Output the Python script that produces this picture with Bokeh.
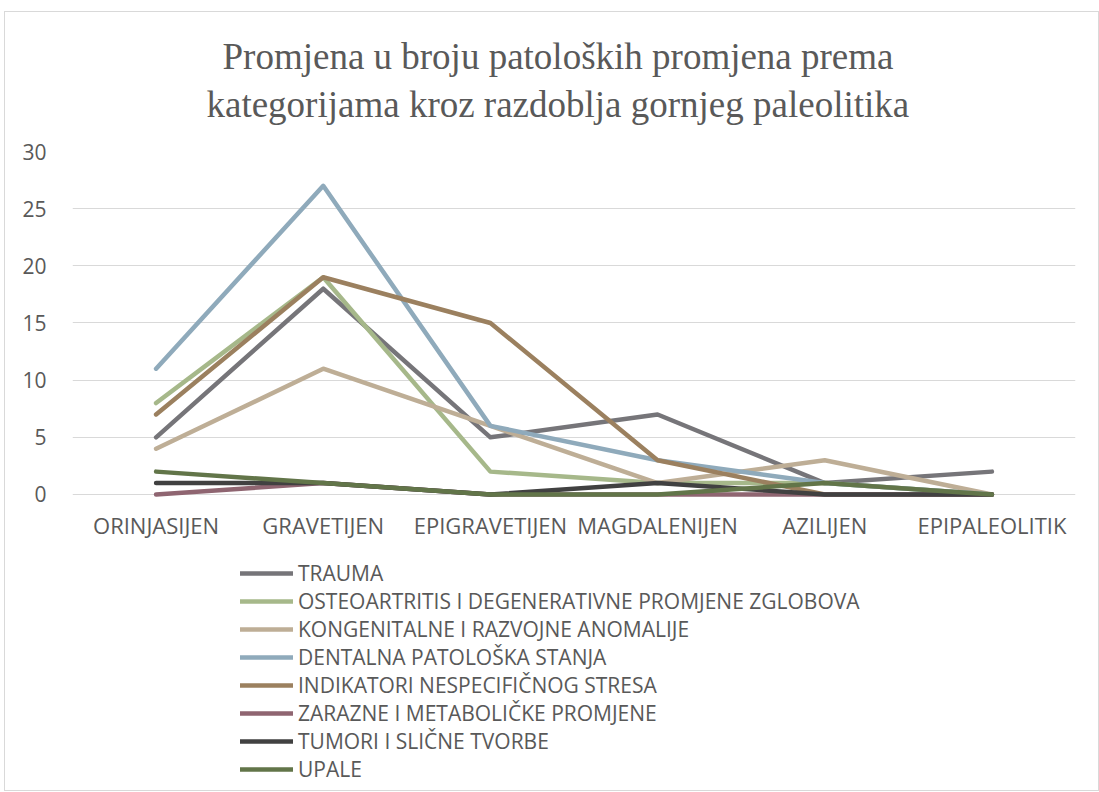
from bokeh.plotting import figure
from bokeh.models import Legend, LegendItem, Title, FactorRange, Range1d, FixedTicker
from bokeh.core.properties import value
from bokeh.embed import file_html
from bokeh.resources import INLINE

categories = ["ORINJASIJEN", "GRAVETIJEN", "EPIGRAVETIJEN", "MAGDALENIJEN", "AZILIJEN", "EPIPALEOLITIK"]

series_names = [
    "TRAUMA",
    "OSTEOARTRITIS I DEGENERATIVNE PROMJENE ZGLOBOVA",
    "KONGENITALNE I RAZVOJNE ANOMALIJE",
    "DENTALNA PATOLOŠKA STANJA",
    "INDIKATORI NESPECIFIČNOG STRESA",
    "ZARAZNE I METABOLIČKE PROMJENE",
    "TUMORI I SLIČNE TVORBE",
    "UPALE",
]

trauma = [5, 18, 5, 7, 1, 2]
osteoartritis = [8, 19, 2, 1, 1, 0]
kongenitalne = [4, 11, 6, 1, 3, 0]
dentalna = [11, 27, 6, 3, 1, 0]
indikatori = [7, 19, 15, 3, 0, 0]
zarazne = [0, 1, 0, 0, 0, 0]
tumori = [1, 1, 0, 1, 0, 0]
upale = [2, 1, 0, 0, 1, 0]

series_values = [trauma, osteoartritis, kongenitalne, dentalna, indikatori, zarazne, tumori, upale]
colors = ["#767579", "#a6b88a", "#beae96", "#8faabb", "#9b805f", "#8f6571", "#414141", "#627549"]

y_ticks = [0, 5, 10, 15, 20, 25, 30]

title_lines = ["Promjena u broju patoloških promjena prema",
               "kategorijama kroz razdoblja gornjeg paleolitika"]

FONT = "Open Sans"
TXT = "#595959"

# frame extends below the value area so that category labels and legend sit inside it
p = figure(
    x_range=FactorRange(*categories, range_padding=0),
    y_range=Range1d(-25.89, 30),
    frame_width=1003, frame_height=639,
    x_axis_location=None,
    output_backend="svg", toolbar_location=None,
    min_border_left=67, min_border_right=23,
    min_border_top=139, min_border_bottom=0,
)
p.outline_line_color = None
p.styles = {"border": "1px solid #d9d9d9", "margin-left": "4px", "margin-top": "11px"}

# line 2 first, then line 1
p.add_layout(Title(text=title_lines[1], align="left", text_font="Liberation Serif",
                   text_font_size="37px", text_font_style="normal", text_color=TXT,
                   standoff=54, offset=134, text_line_height=1.0), "above")
p.add_layout(Title(text=title_lines[0], align="left", text_font="Liberation Serif",
                   text_font_size="37px", text_font_style="normal", text_color=TXT,
                   standoff=-45, offset=150, text_line_height=1.0), "above")

p.xgrid.grid_line_color = None
p.ygrid.grid_line_color = "#d9d9d9"
p.ygrid.grid_line_width = 1
p.yaxis.ticker = FixedTicker(ticks=y_ticks)
ax = p.yaxis[0]
ax.axis_line_color = None
ax.major_tick_line_color = None
ax.minor_tick_line_color = None
ax.major_label_text_font = FONT
ax.major_label_text_font_size = "21px"
ax.major_label_text_color = TXT
ax.major_label_standoff = 20

# category labels under the zero line
p.text(x=categories, y=[0] * len(categories), text=categories, y_offset=31,
       text_align="center", text_baseline="middle", text_font=value(FONT),
       text_font_size="22px", text_color=TXT)

items = []
for name, vals, c in zip(series_names, series_values, colors):
    r = p.line(categories, vals, line_color=c, line_width=4.5, line_cap="round", line_join="round")
    items.append(LegendItem(label=name, renderers=[r]))

legend = Legend(
    items=items, location=(168, 7), orientation="vertical",
    label_text_font=FONT, label_text_font_size="21px", label_text_color=TXT,
    glyph_width=53, glyph_height=20, label_height=20, label_standoff=5, spacing=0,
    padding=0, margin=0, border_line_color=None, background_fill_alpha=0,
)
p.add_layout(legend, "center")

open("out.html", "w").write(file_html(p, INLINE))
